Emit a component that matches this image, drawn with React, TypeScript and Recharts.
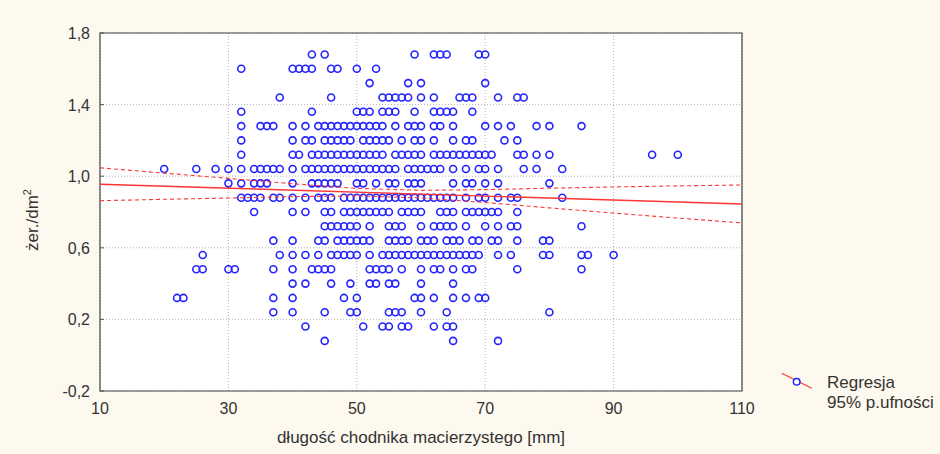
import { ScatterChart, Scatter, XAxis, YAxis, CartesianGrid, ReferenceArea, Legend, Label } from 'recharts';

const FONT = 'Arial, "Liberation Sans", sans-serif';

// długość chodnika (mm) for every observation, grouped by its żer./dm² level
const yLevels = [1.68, 1.6, 1.52, 1.44, 1.36, 1.28, 1.2, 1.12, 1.04, 0.96, 0.88, 0.8, 0.72, 0.64, 0.56, 0.48, 0.4, 0.32, 0.24, 0.16, 0.08];
const row168 = [43, 45, 59, 62, 63, 64, 69, 70];
const row160 = [32, 40, 41, 42, 43, 46, 47, 50, 53];
const row152 = [52, 58, 60, 70];
const row144 = [38, 46, 54, 55, 56, 57, 58, 60, 62, 66, 67, 68, 72, 75, 76];
const row136 = [32, 43, 50, 51, 52, 54, 55, 56, 59, 62, 63, 64, 65, 68];
const row128 = [32, 35, 36, 37, 40, 42, 44, 45, 46, 47, 48, 49, 50, 51, 52, 53, 54, 56, 58, 59, 60, 62, 63, 65, 70, 72, 74, 78, 80, 85];
const row120 = [32, 40, 42, 43, 45, 46, 47, 48, 49, 51, 52, 53, 54, 55, 57, 59, 60, 62, 65, 67, 68, 73, 75];
const row112 = [32, 40, 41, 43, 44, 45, 46, 47, 48, 49, 50, 51, 52, 53, 54, 56, 57, 58, 59, 60, 62, 63, 64, 65, 66, 67, 68, 69, 70, 71, 75, 76, 78, 80, 96, 100];
const row104 = [20, 25, 28, 30, 32, 34, 35, 36, 37, 38, 40, 42, 43, 44, 45, 46, 47, 48, 49, 50, 51, 52, 53, 54, 55, 56, 58, 59, 60, 61, 62, 63, 65, 67, 69, 70, 72, 76, 78, 82];
const row096 = [30, 32, 34, 35, 36, 40, 43, 44, 45, 46, 47, 50, 51, 53, 55, 56, 58, 59, 60, 65, 67, 68, 70, 72, 80];
const row088 = [32, 33, 34, 35, 37, 38, 40, 42, 44, 45, 46, 48, 49, 50, 51, 52, 53, 54, 55, 56, 57, 58, 59, 60, 61, 62, 63, 64, 65, 67, 69, 70, 72, 74, 75, 82];
const row080 = [34, 40, 42, 45, 46, 48, 49, 50, 51, 52, 53, 54, 55, 57, 58, 59, 60, 63, 64, 65, 67, 68, 69, 70, 71, 72, 75];
const row072 = [45, 46, 47, 48, 49, 50, 52, 55, 56, 57, 60, 62, 63, 64, 65, 67, 70, 72, 74, 75, 85];
const row064 = [37, 40, 44, 45, 47, 48, 49, 50, 51, 52, 55, 56, 57, 58, 60, 61, 62, 64, 65, 66, 68, 69, 71, 72, 75, 79, 80];
const row056 = [26, 38, 40, 42, 44, 46, 47, 48, 49, 50, 52, 54, 55, 56, 57, 58, 59, 60, 61, 62, 63, 64, 65, 66, 67, 68, 69, 72, 74, 79, 80, 85, 86, 90];
const row048 = [25, 26, 30, 31, 37, 40, 43, 44, 45, 46, 52, 53, 54, 55, 57, 60, 62, 63, 65, 67, 68, 75, 85];
const row040 = [40, 42, 46, 49, 52, 53, 55, 56, 60, 65];
const row032 = [22, 23, 37, 40, 48, 50, 59, 60, 62, 65, 67, 69, 70];
const row024 = [37, 40, 45, 49, 50, 55, 56, 57, 60, 64, 80];
const row016 = [42, 51, 54, 55, 57, 58, 62, 64, 65];
const row008 = [45, 65, 72];
const xRows = [row168, row160, row152, row144, row136, row128, row120, row112, row104, row096, row088, row080, row072, row064, row056, row048, row040, row032, row024, row016, row008];

// regression line and 95% confidence band
const fitX = [10, 110];
const fitY = [0.955, 0.845];
const bandX = [10, 20, 30, 40, 50, 60, 70, 80, 90, 100, 110];
const upperY = [1.047, 1.017, 0.988, 0.958, 0.932, 0.921, 0.925, 0.933, 0.94, 0.946, 0.951];
const lowerY = [0.863, 0.871, 0.878, 0.886, 0.89, 0.879, 0.853, 0.823, 0.794, 0.766, 0.739];

const xTicks = [10, 30, 50, 70, 90, 110];
const yTicks = [-0.2, 0.2, 0.6, 1.0, 1.4, 1.8];

const points = yLevels.flatMap((y, i) => xRows[i].map((x) => ({ x, y })));
const fitData = fitX.map((x, i) => ({ x, y: fitY[i] }));
const upperData = bandX.map((x, i) => ({ x, y: upperY[i] }));
const lowerData = bandX.map((x, i) => ({ x, y: lowerY[i] }));

const BLUE = '#2424ff';
const RED = '#ff3434';

const fmt = (v: number) => v.toFixed(1).replace('.', ',');

function XTick({ x, y, payload }: any) {
  return (
    <text x={x} y={y + 11.5} textAnchor="middle" fontSize={16} fontFamily={FONT} fill="#333">
      {payload.value}
    </text>
  );
}

function YTick({ x, y, payload }: any) {
  return (
    <g>
      <line x1={x + 10} x2={x + 14} y1={y} y2={y} stroke="#555" />
      <text x={x} y={y + 6} textAnchor="end" fontSize={16} fontFamily={FONT} fill="#333">
        {fmt(payload.value)}
      </text>
    </g>
  );
}

function YTitle({ viewBox }: any) {
  const cx = viewBox.x + 32;
  const cy = viewBox.y + viewBox.height / 2 + 8;
  return (
    <text x={cx} y={cy + 6} transform={`rotate(-90, ${cx}, ${cy})`} textAnchor="middle" fontSize={17} fontFamily={FONT} fill="#333">
      żer./dm<tspan dy={-7} fontSize={11}>2</tspan>
    </text>
  );
}

function XTitle({ viewBox }: any) {
  return (
    <text x={viewBox.x + viewBox.width / 2} y={viewBox.y + 52} textAnchor="middle" fontSize={17} fontFamily={FONT} fill="#333">
      długość chodnika macierzystego [mm]
    </text>
  );
}

function LegendBox() {
  return (
    <div style={{ position: 'relative', width: 160, height: 46, fontFamily: FONT, fontSize: 17, color: '#333' }}>
      <svg width={40} height={24} style={{ position: 'absolute', left: 0, top: 0 }}>
        <line x1={3.7} y1={3.3} x2={33.7} y2={18.3} stroke={RED} strokeWidth={1.2} />
        <circle cx={18.7} cy={11.7} r={3.3} fill="#fff" stroke={BLUE} strokeWidth={1.5} />
      </svg>
      <div style={{ position: 'absolute', left: 49, top: 3, lineHeight: '20px', whiteSpace: 'nowrap' }}>
        <div>Regresja</div>
        <div>95% p.ufności</div>
      </div>
    </div>
  );
}

const dot = (p: any) => <circle cx={p.cx} cy={p.cy} r={3.5} fill="none" stroke={BLUE} strokeWidth={1.6} />;
const noDot = () => <g />;

export default function App() {
  return (
    <div style={{ position: 'absolute', left: 0, top: 0, width: 940, height: 454, background: '#fdf9ef' }}>
      <ScatterChart width={940} height={454} margin={{ top: 33, right: 198, bottom: 0, left: 0 }}>
        <CartesianGrid strokeDasharray="1 2" stroke="#b4b4b4" fill="#ffffff" fillOpacity={1} />
        <XAxis
          type="number"
          dataKey="x"
          domain={[10, 110]}
          ticks={xTicks}
          allowDataOverflow
          height={63}
          axisLine={false}
          tickLine={false}
          tickSize={0}
          tickMargin={11}
          tick={<XTick />}
        >
          <Label content={<XTitle />} />
        </XAxis>
        <YAxis
          type="number"
          dataKey="y"
          domain={[-0.2, 1.8]}
          ticks={yTicks}
          allowDataOverflow
          width={100}
          axisLine={false}
          tickLine={false}
          tickSize={0}
          tickMargin={10}
          tick={<YTick />}
        >
          <Label content={<YTitle />} />
        </YAxis>
        <ReferenceArea x1={10} x2={110} y1={-0.2} y2={1.8} fill="none" stroke="#444" strokeWidth={1.2} />
        <Scatter data={points} shape={dot} isAnimationActive={false} legendType="none" />
        <Scatter data={upperData} shape={noDot} line={{ stroke: RED, strokeWidth: 1.1, strokeDasharray: '4 3' }} isAnimationActive={false} legendType="none" />
        <Scatter data={lowerData} shape={noDot} line={{ stroke: RED, strokeWidth: 1.1, strokeDasharray: '4 3' }} isAnimationActive={false} legendType="none" />
        <Scatter data={fitData} shape={noDot} line={{ stroke: RED, strokeWidth: 1.4 }} isAnimationActive={false} legendType="none" />
        <Legend layout="vertical" align="center" verticalAlign="middle" wrapperStyle={{ left: 778, top: 370, width: 160, height: 46 }} content={() => <LegendBox />} />
      </ScatterChart>
    </div>
  );
}
